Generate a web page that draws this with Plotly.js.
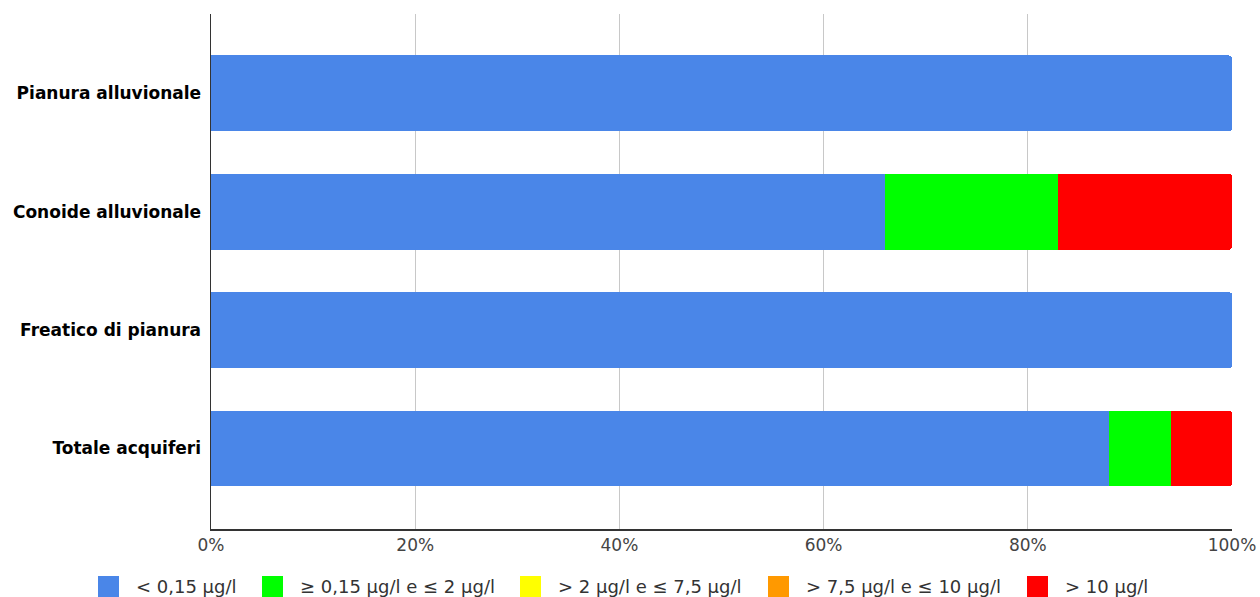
<!DOCTYPE html>
<html>
<head>
<meta charset="utf-8">
<script src="https://cdn.plot.ly/plotly-3.0.1.min.js"></script>
<style>html,body{margin:0;padding:0;background:#fff}#chart{width:1260px;height:597px}</style>
</head>
<body>
<div id="chart"></div>
<script>
const categories = ["Pianura alluvionale", "Conoide alluvionale", "Freatico di pianura", "Totale acquiferi"];
const seriesNames = ["< 0,15 µg/l", "≥ 0,15 µg/l e ≤ 2 µg/l", "> 2 µg/l e ≤ 7,5 µg/l", "> 7,5 µg/l e ≤ 10 µg/l", "> 10 µg/l"];
const lt015 = [100, 66, 100, 88];
const from015to2 = [0, 17, 0, 6];
const from2to75 = [0, 0, 0, 0];
const from75to10 = [0, 0, 0, 0];
const gt10 = [0, 17, 0, 6];
const tickValues = [0, 20, 40, 60, 80, 100];
const tickLabels = ["0%", "20%", "40%", "60%", "80%", "100%"];
const colors = ["#4a86e8", "#00ff00", "#ffff00", "#ff9900", "#ff0000"];

const seriesValues = [lt015, from015to2, from2to75, from75to10, gt10];
const traces = seriesValues.map((vals, i) => ({
  type: "bar",
  orientation: "h",
  name: seriesNames[i],
  y: categories,
  x: vals,
  marker: {color: colors[i], line: {width: 0}},
  hoverinfo: "none",
  showlegend: false
}));

// Layout geometry (pixels)
const M = {l: 211, r: 28, t: 14, b: 68};
const W = 1260, H = 597;
const PW = W - M.l - M.r, PH = H - M.t - M.b;
const px2x = p => (p - M.l) / PW;
const py2y = p => (H - M.b - p) / PH;

// Custom legend (larger squares as in the reference)
const legendSquareLeft = [98, 262, 520, 768, 1027];
const squareSize = 21;
const squareTop = 576;
const textGap = 15;
const shapes = [];
const annotations = [];
seriesNames.forEach((name, i) => {
  const x0 = legendSquareLeft[i];
  shapes.push({
    type: "rect", xref: "paper", yref: "paper",
    x0: px2x(x0), x1: px2x(x0 + squareSize),
    y0: py2y(squareTop + squareSize), y1: py2y(squareTop),
    fillcolor: colors[i], line: {width: 0}, layer: "above"
  });
  annotations.push({
    xref: "paper", yref: "paper",
    x: px2x(x0 + squareSize + textGap), y: py2y(squareTop + squareSize / 2),
    xanchor: "left", yanchor: "middle", showarrow: false,
    text: name, font: {size: 18, color: "#333"}
  });
});

const layout = {
  width: W,
  height: H,
  margin: M,
  barmode: "stack",
  bargap: 0.36,
  barcornerradius: 3,
  paper_bgcolor: "#ffffff",
  plot_bgcolor: "#ffffff",
  font: {family: "DejaVu Sans, Verdana, sans-serif", size: 17, color: "#444"},
  xaxis: {
    range: [0, 100],
    tickvals: tickValues,
    ticktext: tickLabels,
    showgrid: true,
    gridcolor: "#c8c8c8",
    gridwidth: 1,
    zeroline: false,
    showline: true,
    linecolor: "#333333",
    linewidth: 1.5,
    ticks: "",
    tickfont: {size: 17, color: "#444"},
    fixedrange: true
  },
  yaxis: {
    type: "category",
    categoryorder: "array",
    categoryarray: categories,
    range: [3.68, -0.67],
    showline: true,
    linecolor: "#333333",
    linewidth: 1.5,
    showgrid: false,
    zeroline: false,
    ticks: "",
    ticklabelstandoff: 5,
    tickfont: {size: 17, color: "#000", weight: "bold"},
    fixedrange: true
  },
  showlegend: false,
  shapes: shapes,
  annotations: annotations
};

Plotly.newPlot("chart", traces, layout, {displayModeBar: false, staticPlot: true});
</script>
</body>
</html>
